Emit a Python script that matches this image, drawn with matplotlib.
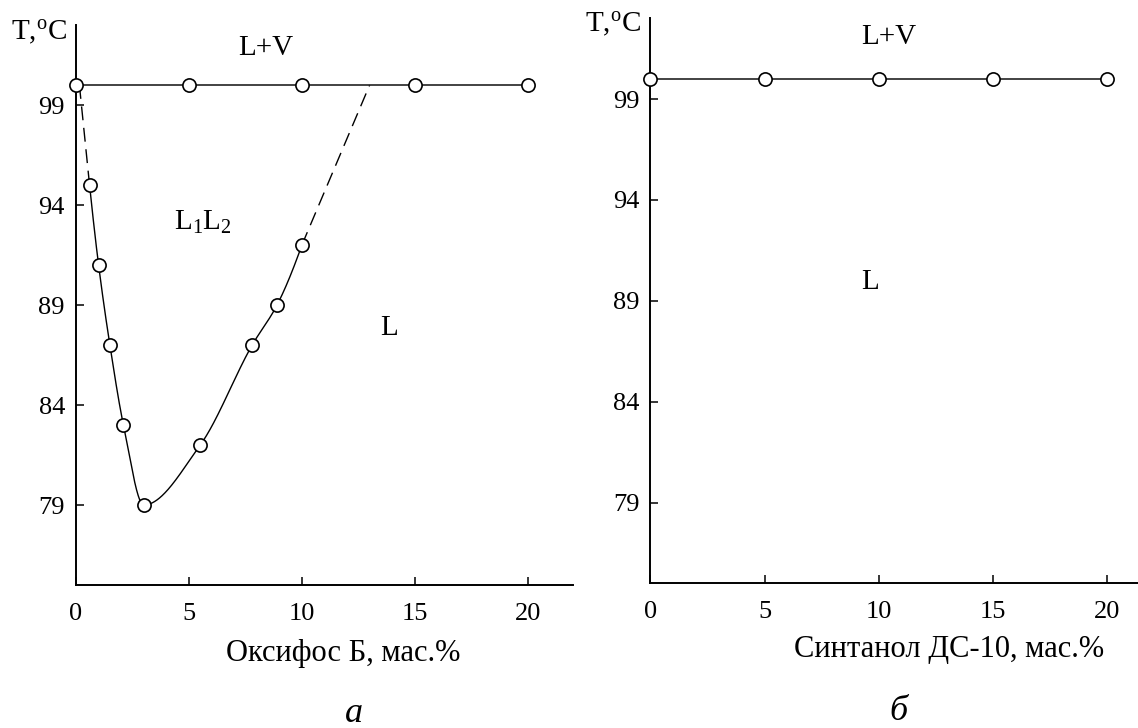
import numpy as np
import matplotlib
matplotlib.use('Agg')
import matplotlib.pyplot as plt

plt.rcParams['font.family'] = ['Liberation Serif', 'DejaVu Serif']
plt.rcParams['mathtext.fontset'] = 'custom'
plt.rcParams['mathtext.rm'] = 'Liberation Serif'
plt.rcParams['mathtext.it'] = 'Liberation Serif:italic'

# ---------------- data ----------------
x_ticks = [0, 5, 10, 15, 20]
y_ticks = [79, 84, 89, 94, 99]

# panel a: Oxyphos B
boil_x_a = [0, 5, 10, 15, 20]
boil_T_a = [100, 100, 100, 100, 100]
curve_x_a = [0.6, 1.0, 1.5, 2.1, 3.0, 5.5, 7.8, 8.9, 10.0]
curve_T_a = [95, 91, 87, 83, 79, 82, 87, 89, 92]
dash_left_x = [0.15, 0.6]
dash_left_T = [100, 95]
dash_right_x = [10.0, 13.0]
dash_right_T = [92, 100]

# panel b: Syntanol DS-10
boil_x_b = [0, 5, 10, 15, 20]
boil_T_b = [100, 100, 100, 100, 100]

xlabel_a = 'Оксифос Б, мас.%'
xlabel_b = 'Синтанол ДС-10, мас.%'
ylabel = 'T,$^{\\mathrm{o}}$C'

W, H = 1138, 728
fig = plt.figure(figsize=(W / 100, H / 100), dpi=100)

TICK_FS = 19
TXT_FS = 21
LAB_FS = 22


def px(x0, y0, x1, y1):
    return [x0 / W, 1 - y1 / H, (x1 - x0) / W, (y1 - y0) / H]


ax_a = fig.add_axes(px(76, 25, 573, 585))
ax_b = fig.add_axes(px(650.4, 18.3, 1138, 583.3))

ax_a.set_xlim(0, 22)
ax_b.set_xlim(0, (1138 - 650.4) / 22.83)
for ax in (ax_a, ax_b):
    ax.set_ylim(75, 103)
    ax.set_facecolor('none')
    for s in ('top', 'right'):
        ax.spines[s].set_visible(False)
    for s in ('left', 'bottom'):
        ax.spines[s].set_linewidth(1.4)
    ax.set_xticks(x_ticks)
    ax.set_yticks(y_ticks)
    ax.tick_params(direction='in', length=5.5, width=1.1, labelsize=TICK_FS)
    ax.tick_params(axis='x', pad=13)
    ax.tick_params(axis='y', pad=8)


def pchip(x, y, xx):
    """Monotone piecewise cubic Hermite curve through the given points."""
    x = np.asarray(x, float)
    y = np.asarray(y, float)
    h = np.diff(x)
    delta = np.diff(y) / h
    n = len(x)
    m = np.zeros(n)
    for k in range(1, n - 1):
        if delta[k - 1] * delta[k] > 0:
            w1 = 2 * h[k] + h[k - 1]
            w2 = h[k] + 2 * h[k - 1]
            m[k] = (w1 + w2) / (w1 / delta[k - 1] + w2 / delta[k])
    m[0] = ((2 * h[0] + h[1]) * delta[0] - h[0] * delta[1]) / (h[0] + h[1])
    if np.sign(m[0]) != np.sign(delta[0]):
        m[0] = 0
    m[-1] = ((2 * h[-1] + h[-2]) * delta[-1] - h[-1] * delta[-2]) / (h[-1] + h[-2])
    if np.sign(m[-1]) != np.sign(delta[-1]):
        m[-1] = 0
    idx = np.clip(np.searchsorted(x, xx) - 1, 0, n - 2)
    t = (xx - x[idx]) / h[idx]
    h00 = 2 * t ** 3 - 3 * t ** 2 + 1
    h10 = t ** 3 - 2 * t ** 2 + t
    h01 = -2 * t ** 3 + 3 * t ** 2
    h11 = t ** 3 - t ** 2
    return (h00 * y[idx] + h10 * h[idx] * m[idx] +
            h01 * y[idx + 1] + h11 * h[idx] * m[idx + 1])


mk = dict(marker='o', markersize=9.5, markerfacecolor='white',
          markeredgecolor='black', markeredgewidth=1.2, clip_on=False, zorder=5)

# ---- panel a ----
xs = np.linspace(curve_x_a[0], curve_x_a[-1], 800)
ax_a.plot(xs, pchip(curve_x_a, curve_T_a, xs), color='black', lw=1.0, zorder=3)
ax_a.plot(curve_x_a, curve_T_a, linestyle='none', **mk)
ax_a.plot(dash_left_x, dash_left_T, color='black', lw=1.0,
          dashes=(10, 5.5), zorder=3)
ax_a.plot(dash_right_x, dash_right_T, color='black', lw=1.0,
          dashes=(10, 5.5), zorder=3)
ax_a.plot(boil_x_a, boil_T_a, color='#222222', lw=1.2, **mk)

ax_a.text(8.4, 101.85, 'L+V', fontsize=TXT_FS, ha='center', va='center')
ax_a.text(5.6, 93.15, 'L$_{1}$L$_{2}$', fontsize=TXT_FS, ha='center', va='center')
ax_a.text(13.85, 87.85, 'L', fontsize=TXT_FS, ha='center', va='center')

# ---- panel b ----
ax_b.plot(boil_x_b, boil_T_b, color='#222222', lw=1.2, **mk)
ax_b.text(10.45, 102.07, 'L+V', fontsize=TXT_FS, ha='center', va='center')
ax_b.text(9.6, 89.94, 'L', fontsize=TXT_FS, ha='center', va='center')

# ---- labels ----
fig.text(39.5 / W, 1 - 33 / H, ylabel, fontsize=TXT_FS, ha='center', va='center')
fig.text(613.5 / W, 1 - 25 / H, ylabel, fontsize=TXT_FS, ha='center', va='center')
fig.text(343.5 / W, 1 - 653 / H, xlabel_a, fontsize=LAB_FS, ha='center', va='center')
fig.text(949 / W, 1 - 650 / H, xlabel_b, fontsize=LAB_FS, ha='center', va='center')
fig.text(354 / W, 1 - 713 / H, 'а', fontsize=26, style='italic',
         ha='center', va='center')
fig.text(898 / W, 1 - 711 / H, 'б', fontsize=26, style='italic',
         ha='center', va='center')

fig.savefig('out.png', dpi=100)
